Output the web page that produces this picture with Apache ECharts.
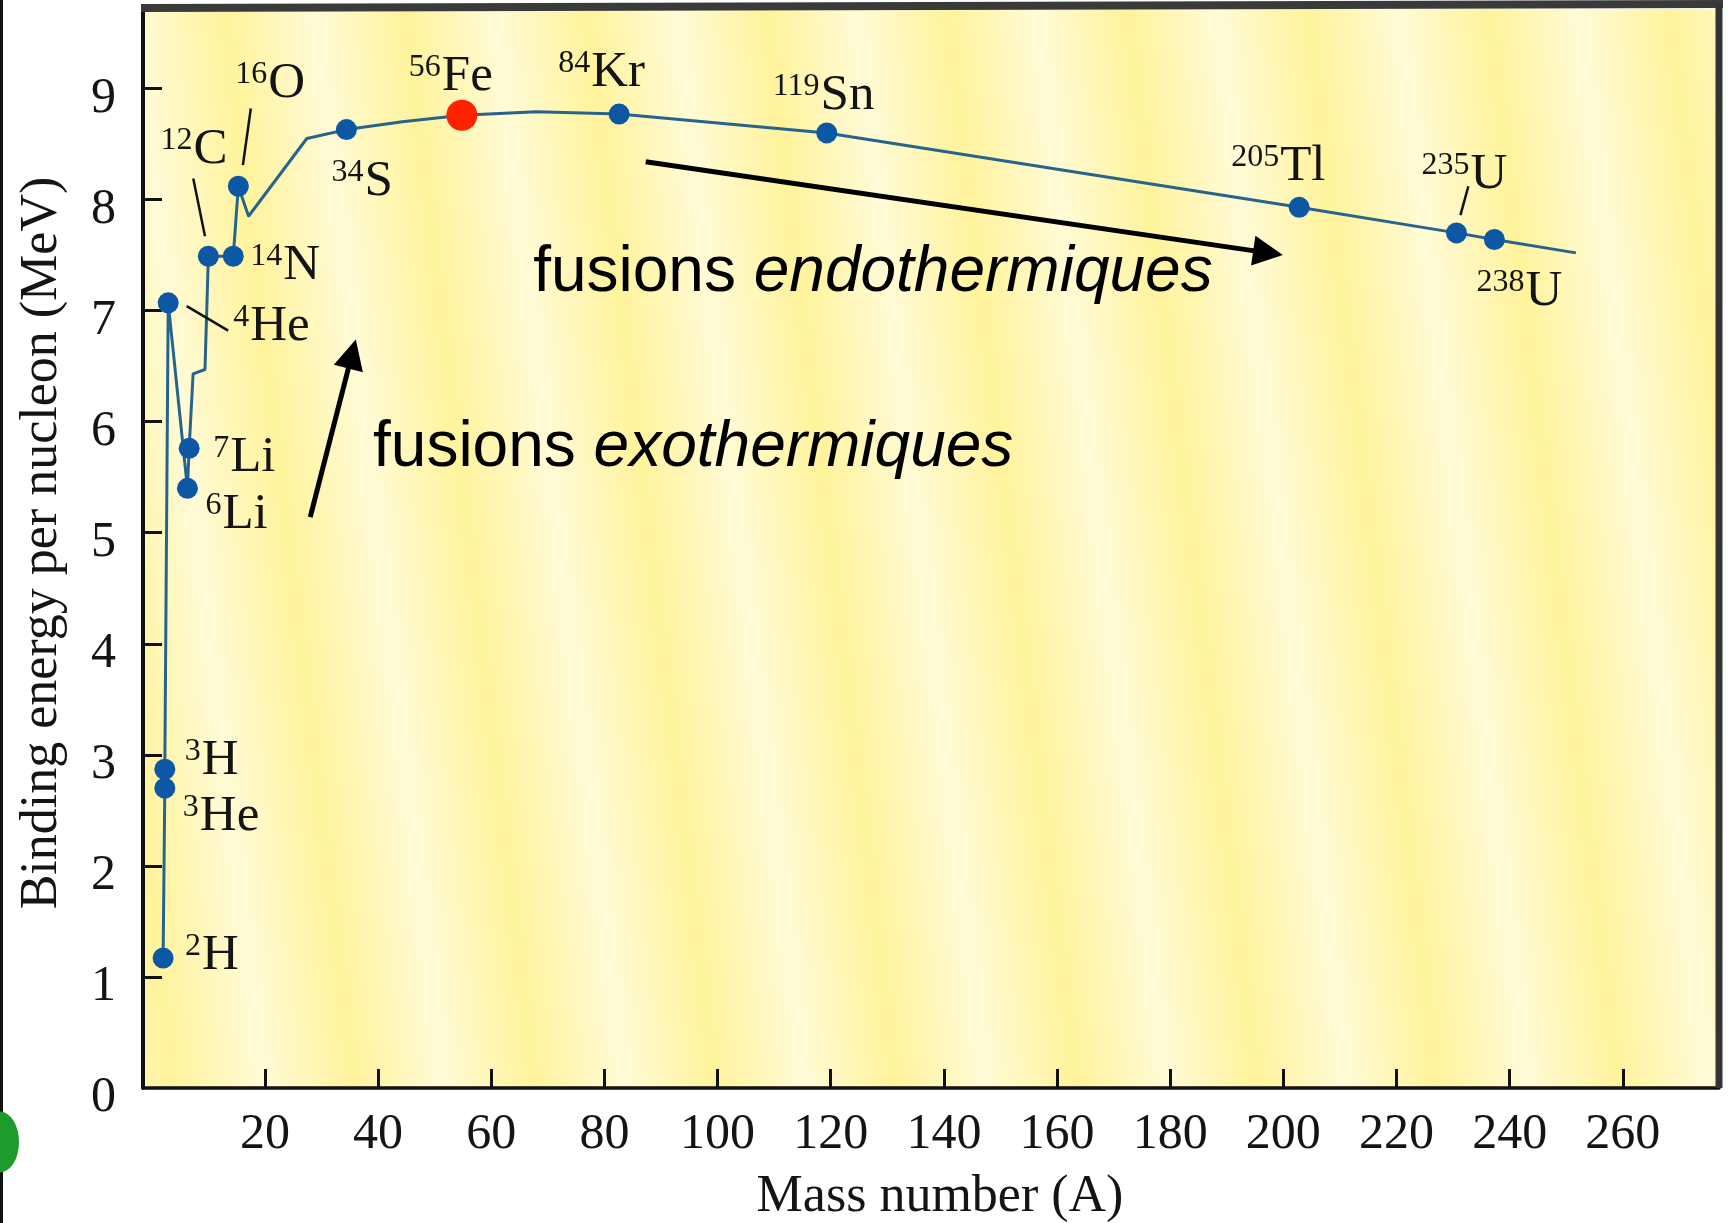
<!DOCTYPE html>
<html><head><meta charset="utf-8">
<script src="https://cdn.jsdelivr.net/npm/echarts@6/dist/echarts.min.js"></script>
<style>html,body{margin:0;padding:0;background:#fff}#c{width:1731px;height:1223px}</style>
</head><body><div id="c"></div>
<script>
// ---------------- data ----------------
const isoMass = ['2','3','3','4','6','7','12','14','16','34','56','84','119','205','235','238'];
const isoElem = ['H','H','He','He','Li','Li','C','N','O','S','Fe','Kr','Sn','Tl','U','U'];
const isoA  = [2.0, 2.3, 2.3, 2.9, 6.3, 6.6, 10.0, 14.4, 15.3, 34.4, 54.8, 82.6, 119.3, 202.8, 230.6, 237.3];
const isoBE = [1.17, 2.87, 2.70, 7.07, 5.40, 5.76, 7.49, 7.49, 8.12, 8.63, 8.76, 8.77, 8.60, 7.93, 7.70, 7.64];
const highlightIndex = 10; // 56Fe

const curveA  = [2.0, 2.3, 2.3, 2.9, 6.3, 6.6, 7.3, 9.4, 10.0, 14.4, 15.3, 17.1, 27.4, 34.4, 44.3, 54.8, 68, 82.6, 119.3, 202.8, 230.6, 237.3, 251.7];
const curveBE = [1.17, 2.70, 2.87, 7.07, 5.40, 5.76, 6.43, 6.47, 7.49, 7.49, 8.12, 7.85, 8.55, 8.63, 8.70, 8.76, 8.79, 8.77, 8.60, 7.93, 7.70, 7.64, 7.52];

const xTicks = [20, 40, 60, 80, 100, 120, 140, 160, 180, 200, 220, 240, 260];
const yTicks = [0, 1, 2, 3, 4, 5, 6, 7, 8, 9];

const xTitle = 'Mass number (A)';
const yTitle = 'Binding energy per nucleon (MeV)';
const noteWord = 'fusions';
const noteExo = 'exothermiques';
const noteEndo = 'endothermiques';

// ---------------- layout (positions / styles) ----------------
const GRID = {left: 143, top: 9, width: 1576, height: 1079};
const X_MIN = -1.555, X_MAX = 277.0, Y_MAX = 9.716;
const labelOffsets = [[22,-2],[20,-9],[18,28],[65,24],[18,26],[24,9],[-48,-107],[17,9],[-3,-103],[-15,52],[-53,-39],[-61,-41],[-54,-37],[-68,-41],[-35,-58],[-18,52]];
const leaderLines = [[[6.17,7.04],[13.5,6.82]], [[7.33,8.19],[9.40,7.67]], [[17.5,8.82],[16.1,8.31]], [[232.7,8.12],[231.3,7.86]]];
const arrowLines = [[[28.0,5.14],[35.4,6.61]], [[87.3,8.34],[197.3,7.52]]];
const exoAnchor = [39.1, 5.76];
const endoAnchor = [67.4, 7.34];

const SERIF = 'Liberation Serif';
const SANS = 'Liberation Sans';
const INK = '#141414';

const chart = echarts.init(document.getElementById('c'), null, {renderer: 'canvas'});

const isoData = isoA.map((a, i) => ({
  value: [a, isoBE[i]],
  symbolSize: i === highlightIndex ? 31 : 21,
  itemStyle: {color: i === highlightIndex ? '#ff2200' : '#0c58a4', opacity: 1},
  label: {offset: labelOffsets[i]}
}));

const option = {
  animation: false,
  backgroundColor: '#ffffff',
  grid: {left: GRID.left, top: GRID.top, width: GRID.width, height: GRID.height, containLabel: false},
  xAxis: {
    type: 'value', min: X_MIN, max: X_MAX,
    axisLine: {show: true, onZero: false, lineStyle: {color: '#111', width: 3.5}},
    axisTick: {show: true, inside: true, length: 19, customValues: xTicks, lineStyle: {color: '#111', width: 3}},
    axisLabel: {show: true, customValues: xTicks, fontFamily: SERIF, fontSize: 50, color: INK, margin: 22},
    splitLine: {show: false}
  },
  yAxis: {
    type: 'value', min: 0, max: Y_MAX,
    axisLine: {show: true, onZero: false, lineStyle: {color: '#111', width: 4}},
    axisTick: {show: true, inside: true, length: 19, customValues: yTicks.slice(1), lineStyle: {color: '#111', width: 3}},
    axisLabel: {show: true, customValues: yTicks, fontFamily: SERIF, fontSize: 50, color: INK, margin: 27, verticalAlign: 'top', lineHeight: 20},
    splitLine: {show: false}
  },
  series: [
    {
      type: 'line',
      data: curveA.map((a, i) => [a, curveBE[i]]),
      showSymbol: false,
      symbol: 'none',
      lineStyle: {color: '#27648c', width: 3},
      z: 2,
      silent: true,
      markLine: {
        silent: true,
        symbol: 'none',
        label: {show: false},
        lineStyle: {color: '#111', width: 2.5, type: 'solid'},
        emphasis: {disabled: true},
        data: leaderLines.map(l => [{coord: l[0]}, {coord: l[1]}])
      }
    },
    {
      type: 'scatter',
      data: isoData,
      z: 3,
      silent: true,
      itemStyle: {opacity: 1},
      label: {
        show: true,
        position: 'inside',
        align: 'left',
        verticalAlign: 'middle',
        color: INK,
        formatter: p => '{s|' + isoMass[p.dataIndex] + '}{e|' + isoElem[p.dataIndex] + '}',
        rich: {
          s: {fontFamily: SERIF, fontSize: 32, lineHeight: 26, verticalAlign: 'top', color: INK, padding: [0, 1, 0, 0]},
          e: {fontFamily: SERIF, fontSize: 51, lineHeight: 50, color: INK}
        }
      },
      markLine: {
        silent: true,
        symbol: ['none', 'triangle'],
        symbolSize: 30,
        label: {show: false},
        lineStyle: {color: '#000', width: 5, type: 'solid', opacity: 1},
        itemStyle: {color: '#000'},
        emphasis: {disabled: true},
        data: arrowLines.map(l => [{coord: l[0]}, {coord: l[1]}])
      }
    }
  ]
};
chart.setOption(option);

// background stripes (paper texture)
const stops = [];
const N = 20;
for (let k = 0; k <= N; k++) stops.push({offset: k / N, color: k % 2 ? '#fff39c' : '#fffbd6'});
const grad = new echarts.graphic.LinearGradient(GRID.left - 60, GRID.top + GRID.height, GRID.left + 1720, GRID.top + GRID.height - 214, stops, true);

const exoP = chart.convertToPixel({gridIndex: 0}, exoAnchor);
const endoP = chart.convertToPixel({gridIndex: 0}, endoAnchor);
const richNote = {
  n: {fontFamily: SANS, fontSize: 64, color: '#000'},
  i: {fontFamily: SANS, fontSize: 64, fontStyle: 'italic', color: '#000'}
};

chart.setOption({
  graphic: [
    {id: 'bg', type: 'rect', z: -10, silent: true,
     shape: {x: GRID.left, y: GRID.top, width: GRID.width, height: GRID.height},
     style: {fill: grad}},
    {id: 'topBorder', type: 'line', z: 5, silent: true,
     shape: {x1: GRID.left - 2, y1: GRID.top - 1, x2: GRID.left + GRID.width + 4, y2: GRID.top - 5},
     style: {stroke: '#3a3a3a', lineWidth: 8}},
    {id: 'rightBorder', type: 'line', z: 5, silent: true,
     shape: {x1: GRID.left + GRID.width, y1: GRID.top - 6, x2: GRID.left + GRID.width, y2: GRID.top + GRID.height},
     style: {stroke: '#333', lineWidth: 7}},
    {id: 'leftEdge', type: 'rect', z: 5, silent: true,
     shape: {x: 0, y: 0, width: 3, height: 1223}, style: {fill: '#111'}},
    {id: 'greenMark', type: 'circle', z: 5, silent: true, x: 0, y: 1142, scaleY: 1.6,
     shape: {cx: 0, cy: 0, r: 19}, style: {fill: '#1f9a2c'}},
    {id: 'yTitle', type: 'text', z: 5, silent: true, x: 42, y: 543, rotation: Math.PI / 2,
     style: {text: yTitle, fontFamily: SERIF, fontSize: 52, fill: INK, align: 'center', verticalAlign: 'middle'}},
    {id: 'xTitle', type: 'text', z: 5, silent: true, x: 940, y: 1197,
     style: {text: xTitle, fontFamily: SERIF, fontSize: 52, fill: INK, align: 'center', verticalAlign: 'middle'}},
    {id: 'exo', type: 'text', z: 5, silent: true, x: exoP[0], y: exoP[1],
     style: {text: '{n|' + noteWord + ' }{i|' + noteExo + '}', rich: richNote, align: 'left', verticalAlign: 'middle'}},
    {id: 'endo', type: 'text', z: 5, silent: true, x: endoP[0], y: endoP[1],
     style: {text: '{n|' + noteWord + ' }{i|' + noteEndo + '}', rich: richNote, align: 'left', verticalAlign: 'middle'}}
  ]
});
</script>
</body></html>
